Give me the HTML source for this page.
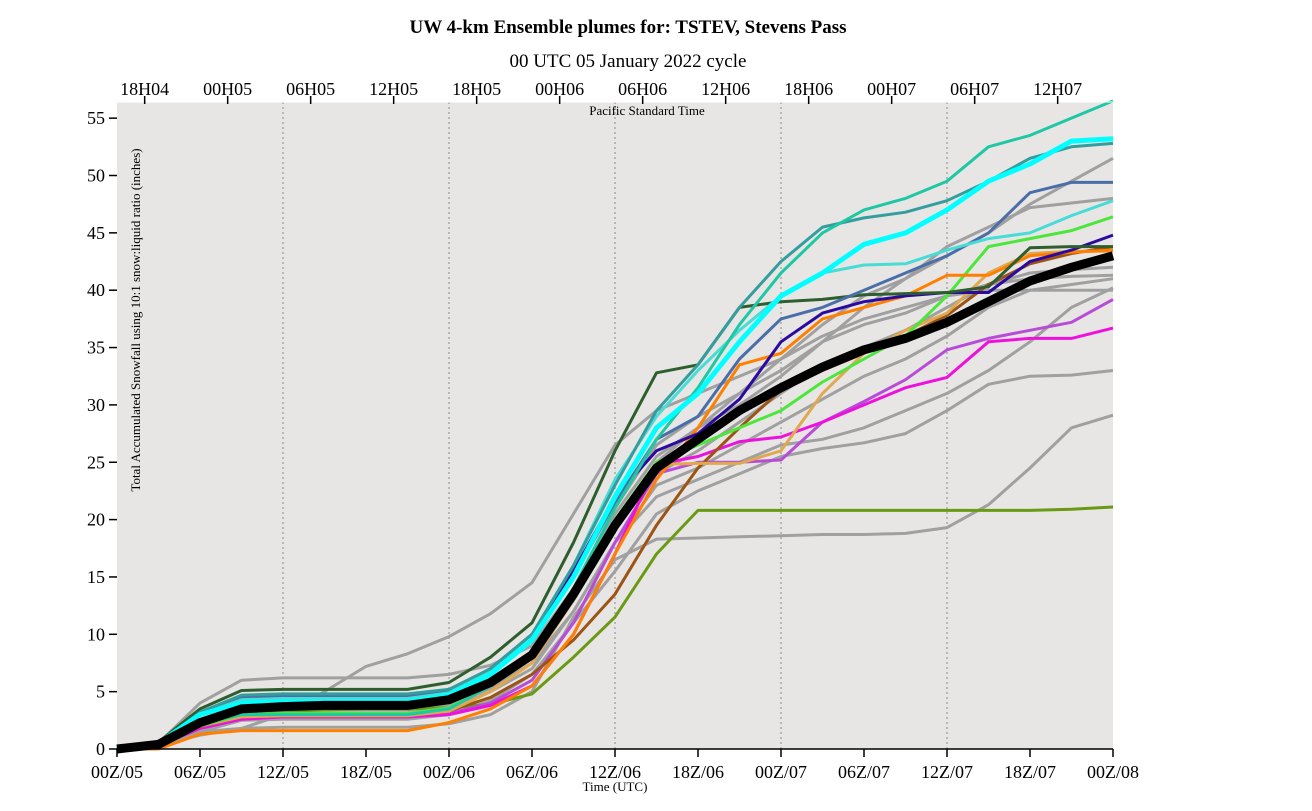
<!DOCTYPE html>
<html><head><meta charset="utf-8"><style>
body{margin:0;background:#fff;width:1312px;height:806px;overflow:hidden}
svg text{font-family:"Liberation Serif",serif;fill:#000}
</style></head><body>
<svg id="chart" width="1312" height="806">
<text x="628" y="33" font-size="19" font-weight="bold" text-anchor="middle">UW 4-km Ensemble plumes for: TSTEV, Stevens Pass</text>
<text x="628" y="67" font-size="19" text-anchor="middle">00 UTC 05 January 2022 cycle</text>
<rect x="117" y="102" width="996" height="647" fill="#e8e6e5"/>
<g id="grid"></g><g id="series"></g><g id="axes"></g>
<text x="647" y="115" font-size="13" text-anchor="middle">Pacific Standard Time</text>
<text x="615" y="791" font-size="13" text-anchor="middle">Time (UTC)</text>
<text transform="translate(140,320) rotate(-90)" font-size="13" text-anchor="middle">Total Accumulated Snowfall using 10:1 snow:liquid ratio (inches)</text>
</svg>
<script>
const hours=[0,3,6,9,12,15,18,21,24,27,30,33,36,39,42,45,48,51,54,57,60,63,66,69,72];
const yTicks=[0,5,10,15,20,25,30,35,40,45,50,55];
const xTickHours=[0,6,12,18,24,30,36,42,48,54,60,66,72];
const xTickLabels=["00Z/05","06Z/05","12Z/05","18Z/05","00Z/06","06Z/06","12Z/06","18Z/06","00Z/07","06Z/07","12Z/07","18Z/07","00Z/08"];
const topTickHours=[2,8,14,20,26,32,38,44,50,56,62,68];
const topTickLabels=["18H04","00H05","06H05","12H05","18H05","00H06","06H06","12H06","18H06","00H07","06H07","12H07"];
const gridHours=[12,24,36,48,60];
const gray1=[0,0.5,4,6,6.2,6.2,6.2,6.2,6.5,7.3,9,14,21,26.5,29,31,33,35.5,37,38,39.5,40,40,40,40];
const gray2=[0,0.3,1.5,1.8,3,5,7.2,8.3,9.8,11.8,14.5,20.5,26.5,29.5,31,32.5,34,37,39.5,41,43,45,47.5,49.5,51.5];
const gray3=[0,0.3,1.2,1.8,1.9,1.9,1.9,1.9,2.2,3,5,11.5,16.5,18.3,18.4,18.5,18.6,18.7,18.7,18.8,19.3,21.3,24.5,28,29.1];
const gray4=[0,0.3,1.5,2.5,2.6,2.6,2.6,2.6,3,4.2,6.5,11,15.5,20.5,22.5,24,25.5,26.2,26.7,27.5,29.5,31.8,32.5,32.6,33];
const gray5=[0,0.4,2.5,3.5,3.6,3.6,3.6,3.6,4,5.8,8.5,14,20.5,25.5,28,30,32.5,35.5,38.5,41,43.8,45.5,47.2,47.6,48];
const gray6=[0,0.4,2.3,3.3,3.4,3.4,3.4,3.4,3.8,5.5,8,13,19.5,24,26,28.5,31,33.5,35,36.5,38.5,40.5,41.5,41.8,42];
const gray7=[0,0.4,2.3,3.3,3.4,3.4,3.4,3.4,3.8,5.3,7.5,12,18,23,24.5,26.5,28.5,30.5,32.5,34,36,38.5,40,40.5,41];
const gray8=[0,0.3,2,3,3.1,3.1,3.1,3.1,3.5,5,7,12,18,22,23.5,25,26.5,27,28,29.5,31,33,35.5,38.5,40.2];
const gray9=[0,0.4,2.5,3.5,3.6,3.6,3.6,3.6,4,5.5,8,13,19.5,25,28,31,34,36,37.5,38.5,39.5,40.5,41,41.2,41.3];
const olive=[0,0.3,2,3,3.3,3.4,3.5,3.5,3.6,3.9,4.8,8,11.5,17,20.8,20.8,20.8,20.8,20.8,20.8,20.8,20.8,20.8,20.9,21.1];
const magenta=[0,0.3,1.8,2.6,2.8,2.8,2.8,2.8,3,3.8,5.5,10,17,24.8,25.5,26.8,27.2,28.5,30,31.5,32.4,35.5,35.8,35.8,36.7];
const orchid=[0,0.3,1.8,2.6,2.8,2.8,2.8,2.8,3.1,4,6,11,18,24,25,25,25.2,28.5,30.3,32.2,34.8,35.8,36.5,37.2,39.2];
const brown=[0,0.3,2,2.8,2.9,2.9,2.9,2.9,3.3,4.5,6.5,9.5,13.5,19.5,24.5,28,31.3,33,34.5,36,37.8,40.5,42.3,43.2,43.8];
const sandy=[0,0.3,2,2.8,2.9,2.9,2.9,2.9,3.3,5,7.5,13,19.5,24.8,24.9,24.9,26,31,34.5,36.5,38,41.5,43.2,43.4,43.4];
const orange=[0,0,1.3,1.6,1.6,1.6,1.6,1.6,2.3,3.5,5.5,10,17,23.5,28,33.5,34.5,37.5,38.5,39.5,41.3,41.3,43,43.3,43.5];
const lightGreen=[0,0.4,2,3,3.1,3.1,3.1,3.1,3.6,5.5,8.5,14,20,25,26.5,28,29.5,32,34,36,39.5,43.8,44.5,45.2,46.4];
const indigo=[0,0.5,3,4.6,4.7,4.7,4.7,4.7,5.1,7,10,15.5,22,26,27.5,30.5,35.5,38,39,39.5,39.8,39.8,42.5,43.5,44.8];
const darkGreen=[0,0.6,3.5,5.1,5.2,5.2,5.2,5.2,5.8,8,11,18,26,32.8,33.5,38.5,39,39.2,39.6,39.7,39.8,40.3,43.7,43.8,43.8];
const steelBlue=[0,0.5,3,4.5,4.6,4.6,4.6,4.6,5,6.8,9.5,15,21.5,27,29,34,37.5,38.5,40,41.5,43,45,48.5,49.4,49.4];
const turquoise=[0,0.5,3,4.3,4.4,4.4,4.4,4.4,4.9,6.8,10,16,23.5,29,33,36.5,39.5,41.5,42.2,42.3,43.5,44.5,45,46.5,47.8];
const darkTeal=[0,0.5,3.2,4.7,4.8,4.8,4.8,4.8,5.2,7,10,16,23,29.5,33.5,38.5,42.5,45.5,46.3,46.8,47.8,49.5,51.5,52.5,52.8];
const tealTop=[0,0.5,2.2,3,3,3,3,3,3.5,5.5,8.5,14,21,27,31.5,37,41.5,45,47,48,49.5,52.5,53.5,55,56.5];
const cyan=[0,0.5,3,4,4.1,4.1,4.1,4.1,4.7,6.5,9.5,15,22,28,31,35.5,39.5,41.5,44,45,47,49.5,51,53,53.2];
const mean=[0,0.4,2.3,3.5,3.7,3.8,3.8,3.8,4.3,5.8,8.2,13.5,19.5,24.5,27,29.5,31.5,33.3,34.8,35.8,37.2,39,40.8,42,43];

const X0=117,X1=1113,Y0=749,PXU=11.47;
const xs=h=>X0+(h/72)*(X1-X0);
const ys=v=>Y0-v*PXU;
const NS="http://www.w3.org/2000/svg";
function mk(tag,attrs,parent){const e=document.createElementNS(NS,tag);for(const k in attrs)e.setAttribute(k,attrs[k]);parent.appendChild(e);return e;}
const grid=document.getElementById('grid'),ser=document.getElementById('series'),ax=document.getElementById('axes');
gridHours.forEach(h=>{
  const l=mk('line',{x1:xs(h),x2:xs(h),y1:102,y2:749,stroke:'#a8a8a8','stroke-width':1.5,'stroke-dasharray':'2,3'},grid);
  
  
});
const list=[
 [gray1,'#a0a0a0',3,'gray-member-1'],[gray2,'#a0a0a0',3,'gray-member-2'],[gray3,'#a0a0a0',3,'gray-member-3'],
 [gray4,'#a0a0a0',3,'gray-member-4'],[gray5,'#a0a0a0',3,'gray-member-5'],[gray6,'#a0a0a0',3,'gray-member-6'],
 [gray7,'#a0a0a0',3,'gray-member-7'],[gray8,'#a0a0a0',3,'gray-member-8'],[gray9,'#a0a0a0',3,'gray-member-9'],
 [olive,'#6a9a14',3,'olive-member'],[orchid,'#b84cd6',3,'orchid-member'],[magenta,'#ee10dd',3,'magenta-member'],
 [brown,'#9c5414',3,'brown-member'],[sandy,'#e0a850',3,'sandy-member'],[lightGreen,'#4ce63c',3,'light-green-member'],
 [orange,'#ff7f00',3,'orange-member'],[indigo,'#2c0aa0',3,'indigo-member'],[darkGreen,'#2e5e2e',3,'dark-green-member'],
 [steelBlue,'#4a6ea8',3,'steel-blue-member'],[turquoise,'#48dcd6',3,'turquoise-member'],[darkTeal,'#349e9e',3,'dark-teal-member'],
 [tealTop,'#1ec8a5',3,'teal-member'],[cyan,'#00ffff',5,'cyan-member'],[mean,'#000000',9,'ensemble-mean']
];
list.forEach(([d,c,w,n])=>{
  const p=mk('polyline',{points:d.map((v,i)=>xs(hours[i]).toFixed(1)+','+ys(v).toFixed(1)).join(' '),fill:'none',stroke:c,'stroke-width':w,'stroke-linejoin':'round'},ser);
  
  
});
mk('line',{x1:X0,x2:X1,y1:Y0,y2:Y0,stroke:'#000','stroke-width':1.5},ax);
mk('line',{x1:X0,x2:X1,y1:102,y2:102,stroke:'#fff','stroke-width':1},ax);
yTicks.forEach(v=>{
  mk('line',{x1:X0-8,x2:X0,y1:ys(v),y2:ys(v),stroke:'#000','stroke-width':1.5},ax);
  const t=mk('text',{x:X0-12,y:ys(v)+6,'font-size':18,'text-anchor':'end'},ax);
  t.textContent=v;
  
  
});
xTickHours.forEach((h,i)=>{
  mk('line',{x1:xs(h),x2:xs(h),y1:Y0,y2:Y0+8,stroke:'#000','stroke-width':1.5},ax);
  const t=mk('text',{x:xs(h),y:778,'font-size':18,'text-anchor':'middle'},ax);
  t.textContent=xTickLabels[i];
  
  
});
topTickHours.forEach((h,i)=>{
  mk('line',{x1:xs(h),x2:xs(h),y1:96,y2:104,stroke:'#000','stroke-width':1.5},ax);
  const t=mk('text',{x:xs(h),y:95,'font-size':18,'text-anchor':'middle'},ax);
  t.textContent=topTickLabels[i];
  
  
});
</script>
</body></html>
